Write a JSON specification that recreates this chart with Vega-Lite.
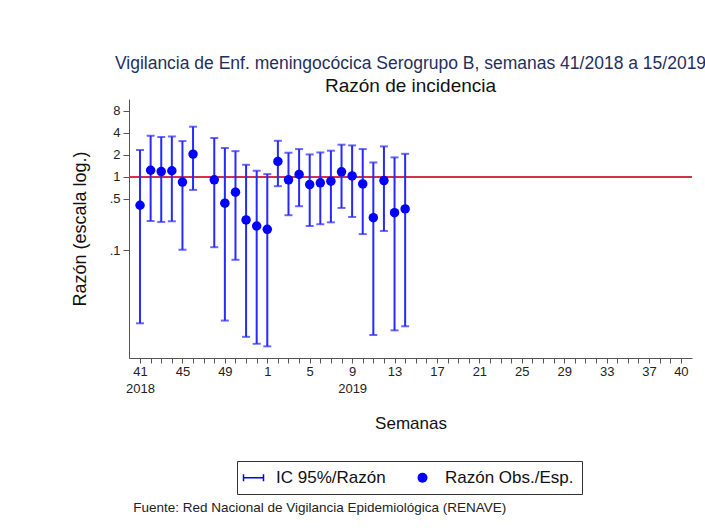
{
  "$schema": "https://vega.github.io/schema/vega-lite/v6.json",
  "background": "white",
  "padding": {"left": 71, "top": 54, "right": 5, "bottom": 5},
  "config": {
    "font": "Liberation Sans",
    "view": {"stroke": null}
  },
  "title": {
    "text": "Fuente: Red Nacional de Vigilancia Epidemiológica (RENAVE)",
    "orient": "bottom",
    "anchor": "start",
    "fontSize": 13.5,
    "fontWeight": "normal",
    "color": "#222222",
    "offset": 6,
    "dx": 62
  },
  "vconcat": [
    {
      "width": 563,
      "height": 259,
      "title": {
        "text": "Vigilancia de Enf. meningocócica Serogrupo B, semanas 41/2018 a 15/2019",
        "subtitle": "Razón de incidencia",
        "fontSize": 17.5,
        "fontWeight": "normal",
        "color": "#1f2f5f",
        "subtitleFontSize": 19,
        "subtitleColor": "#111111",
        "subtitlePadding": 5,
        "anchor": "middle",
        "offset": 3
      },
      "data": {
        "values": [
          {"i": 0, "semana": 41, "anio": 2018, "razon": 0.41, "lo": 0.0101, "hi": 2.32},
          {"i": 1, "semana": 42, "anio": 2018, "razon": 1.23, "lo": 0.25, "hi": 3.63},
          {"i": 2, "semana": 43, "anio": 2018, "razon": 1.18, "lo": 0.243, "hi": 3.49},
          {"i": 3, "semana": 44, "anio": 2018, "razon": 1.21, "lo": 0.248, "hi": 3.55},
          {"i": 4, "semana": 45, "anio": 2018, "razon": 0.85, "lo": 0.1016, "hi": 3.07},
          {"i": 5, "semana": 46, "anio": 2018, "razon": 2.04, "lo": 0.664, "hi": 4.82},
          {"i": 7, "semana": 48, "anio": 2018, "razon": 0.91, "lo": 0.11, "hi": 3.38},
          {"i": 8, "semana": 49, "anio": 2018, "razon": 0.437, "lo": 0.011, "hi": 2.47},
          {"i": 9, "semana": 50, "anio": 2018, "razon": 0.618, "lo": 0.0741, "hi": 2.24},
          {"i": 10, "semana": 51, "anio": 2018, "razon": 0.259, "lo": 0.0066, "hi": 1.46},
          {"i": 11, "semana": 52, "anio": 2018, "razon": 0.214, "lo": 0.0053, "hi": 1.21},
          {"i": 12, "semana": 1, "anio": 2019, "razon": 0.193, "lo": 0.0049, "hi": 1.09},
          {"i": 13, "semana": 2, "anio": 2019, "razon": 1.62, "lo": 0.746, "hi": 3.1},
          {"i": 14, "semana": 3, "anio": 2019, "razon": 0.91, "lo": 0.3, "hi": 2.13},
          {"i": 15, "semana": 4, "anio": 2019, "razon": 1.08, "lo": 0.398, "hi": 2.39},
          {"i": 16, "semana": 5, "anio": 2019, "razon": 0.785, "lo": 0.214, "hi": 2.02},
          {"i": 17, "semana": 6, "anio": 2019, "razon": 0.828, "lo": 0.226, "hi": 2.15},
          {"i": 18, "semana": 7, "anio": 2019, "razon": 0.873, "lo": 0.24, "hi": 2.27},
          {"i": 19, "semana": 8, "anio": 2019, "razon": 1.17, "lo": 0.377, "hi": 2.74},
          {"i": 20, "semana": 9, "anio": 2019, "razon": 1.03, "lo": 0.284, "hi": 2.68},
          {"i": 21, "semana": 10, "anio": 2019, "razon": 0.8, "lo": 0.166, "hi": 2.39},
          {"i": 22, "semana": 11, "anio": 2019, "razon": 0.278, "lo": 0.007, "hi": 1.57},
          {"i": 23, "semana": 12, "anio": 2019, "razon": 0.89, "lo": 0.183, "hi": 2.6},
          {"i": 24, "semana": 13, "anio": 2019, "razon": 0.325, "lo": 0.0081, "hi": 1.84},
          {"i": 25, "semana": 14, "anio": 2019, "razon": 0.366, "lo": 0.0092, "hi": 2.06}
        ]
      },
      "encoding": {
        "x": {
          "field": "i",
          "type": "quantitative",
          "scale": {"domain": [-1.04, 52.05], "nice": false, "zero": false},
          "axis": {
            "values": [0,1,2,3,4,5,6,7,8,9,10,11,12,13,14,15,16,17,18,19,20,21,22,23,24,25,26,27,28,29,30,31,32,33,34,35,36,37,38,39,40,41,42,43,44,45,46,47,48,49,50,51],
            "labelExpr": "(datum.value % 4 == 0 || datum.value == 51) ? (datum.value == 0 ? ['41', '2018'] : (datum.value == 20 ? ['9', '2019'] : '' + (datum.value < 12 ? datum.value + 41 : datum.value - 11))) : ''",
            "labelOverlap": false,
            "labelFontSize": 13,
            "labelLineHeight": 17,
            "labelColor": "#222222",
            "labelPadding": 2,
            "tickSize": 5,
            "tickColor": "#555555",
            "domainColor": "#555555",
            "grid": false,
            "title": "Semanas",
            "titleFontSize": 17,
            "titleFontWeight": "normal",
            "titleColor": "#111111",
            "titlePadding": 20
          }
        }
      },
      "layer": [
        {
          "mark": {"type": "rule", "color": "#d4304c", "strokeWidth": 1.5},
          "encoding": {
            "x": null,
            "y": {"datum": 1, "type": "quantitative"}
          }
        },
        {
          "mark": {"type": "rule", "color": "#2828ff", "strokeWidth": 2},
          "encoding": {
            "y": {
              "field": "lo",
              "type": "quantitative",
              "scale": {"type": "log", "domain": [0.0034, 11.5], "nice": false},
              "axis": {
                "values": [0.1, 0.5, 1, 2, 4, 8],
                "labelExpr": "datum.value == 0.5 ? '.5' : (datum.value == 0.1 ? '.1' : datum.label)",
                "labelFontSize": 13,
                "labelColor": "#222222",
                "labelPadding": 3,
                "tickSize": 6,
                "tickColor": "#555555",
                "domainColor": "#555555",
                "grid": false,
                "title": "Razón (escala log.)",
                "titleFontSize": 18,
                "titleFontWeight": "normal",
                "titleColor": "#111111",
                "titlePadding": 20
              }
            },
            "y2": {"field": "hi"}
          }
        },
        {
          "mark": {"type": "tick", "orient": "horizontal", "color": "#2828ff", "size": 8, "thickness": 2},
          "encoding": {
            "y": {"field": "lo", "type": "quantitative", "title": "Razón (escala log.)"}
          }
        },
        {
          "mark": {"type": "tick", "orient": "horizontal", "color": "#2828ff", "size": 8, "thickness": 2},
          "encoding": {
            "y": {"field": "hi", "type": "quantitative", "title": "Razón (escala log.)"}
          }
        },
        {
          "mark": {"type": "point", "filled": true, "opacity": 1, "color": "#0000ff", "size": 90},
          "encoding": {
            "y": {"field": "razon", "type": "quantitative", "title": "Razón (escala log.)"},
            "shape": {
              "datum": "Razón Obs./Esp.",
              "type": "nominal",
              "scale": {
                "domain": ["IC 95%/Razón", "Razón Obs./Esp."],
                "range": ["M-2.15,-0.7H-1.85V-0.15H1.85V-0.7H2.15V0.7H1.85V0.15H-1.85V0.7H-2.15Z", "circle"]
              },
              "legend": {
                "title": null,
                "orient": "none",
                "legendX": 108,
                "legendY": 362,
                "direction": "horizontal",
                "columns": 2,
                "strokeColor": "#333333",
                "padding": 8,
                "labelFontSize": 17,
                "labelColor": "#111111",
                "labelOffset": 14,
                "columnPadding": 28,
                "symbolSize": 100,
                "symbolFillColor": "#0000ff",
                "symbolStrokeColor": "transparent",
                "symbolOpacity": 1
              }
            }
          }
        }
      ]
    }
  ]
}
